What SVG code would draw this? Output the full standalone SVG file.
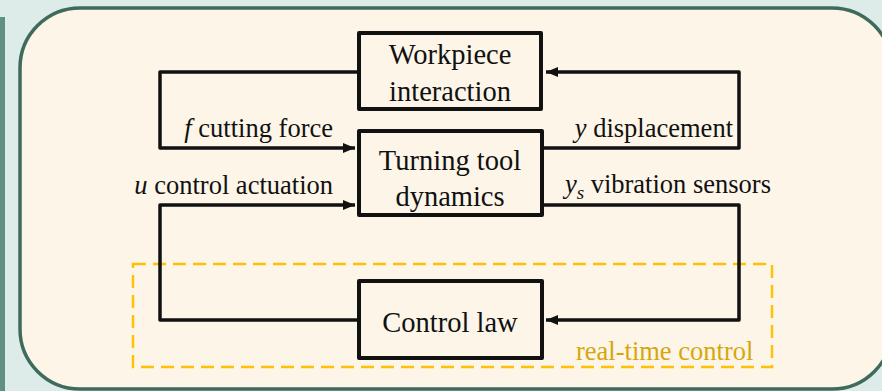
<svg xmlns="http://www.w3.org/2000/svg" width="882" height="391" viewBox="0 0 882 391">
<defs>
<style>
.box{fill:none;stroke:#111;stroke-width:4;stroke-linejoin:round}
.conn{fill:none;stroke:#111;stroke-width:3.5;stroke-linejoin:round}
.bt{font-family:"Liberation Serif",serif;font-size:28.5px;fill:#111;text-anchor:middle}
.lb{font-family:"Liberation Serif",serif;font-size:26.5px;fill:#111}
.it{font-style:italic}
</style>
<marker id="ah" viewBox="0 0 12 10" refX="12" refY="5" markerWidth="12" markerHeight="10" markerUnits="userSpaceOnUse" orient="auto">
<path d="M0,0 L12,5 L0,10 Z" fill="#111"/>
</marker>
</defs>
<rect x="0" y="0" width="882" height="391" fill="#ddece9"/>
<rect x="0" y="17" width="5" height="374" fill="#5f9081"/>
<rect x="20" y="8" width="872" height="381" rx="60" ry="60" fill="#fcf5e8" stroke="#3f6b5d" stroke-width="3.5"/>
<g id="realtime">
<rect x="133" y="264" width="639" height="103" fill="none" stroke="#ffc107" stroke-width="2.5" stroke-dasharray="13,7"/>
<text x="576" y="360" font-family="Liberation Serif,serif" font-size="26.5" fill="#d6a70d">real-time control</text>
</g>
<g id="connectors">
<path class="conn" d="M359,72 H160 V148 H355" marker-end="url(#ah)"/>
<path class="conn" d="M542,148 H739 V72 H546" marker-end="url(#ah)"/>
<path class="conn" d="M542,205 H739 V320 H546" marker-end="url(#ah)"/>
<path class="conn" d="M359,320 H160 V205 H355" marker-end="url(#ah)"/>
<text class="lb" x="333" y="137" text-anchor="end"><tspan class="it">f</tspan> cutting force</text>
<text class="lb" x="333" y="194" text-anchor="end"><tspan class="it">u</tspan> control actuation</text>
<text class="lb" x="733" y="137" text-anchor="end"><tspan class="it">y</tspan> displacement</text>
<text class="lb" x="771" y="193" text-anchor="end"><tspan class="it">y</tspan><tspan class="it" font-size="19" dy="6">s</tspan><tspan dy="-6"> vibration sensors</tspan></text>
</g>
<g id="workpiece">
<rect class="box" x="359" y="33" width="182" height="76"/>
<text class="bt" x="450" y="64">Workpiece</text>
<text class="bt" x="450" y="101">interaction</text>
</g>
<g id="turning">
<rect class="box" x="359" y="131" width="183" height="84"/>
<text class="bt" x="450" y="170">Turning tool</text>
<text class="bt" x="450" y="206">dynamics</text>
</g>
<g id="control">
<rect class="box" x="359" y="281" width="183" height="77"/>
<text class="bt" x="450" y="332">Control law</text>
</g>
</svg>
